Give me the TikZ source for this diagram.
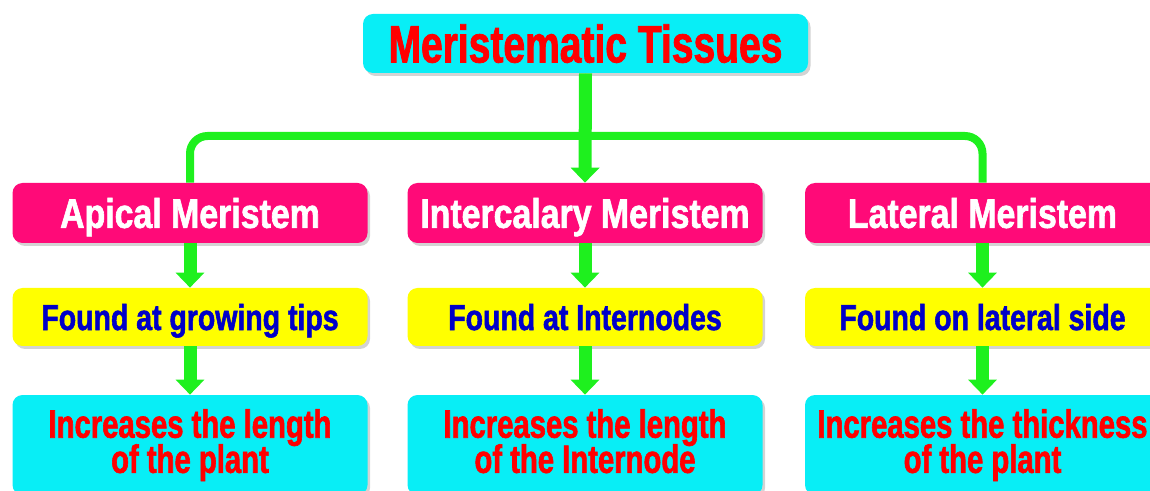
\documentclass[tikz,border=0pt]{standalone}
\usepackage{fontspec}
\usepackage{xcolor}
\usepackage{tikz}
\usetikzlibrary{positioning,arrows.meta,shadows}
\newfontfamily\titlefont[FakeStretch=0.74,FakeBold=1.5]{Liberation Sans Bold}
\newfontfamily\typefont[FakeStretch=0.82,FakeBold=1.5]{Liberation Sans Bold}
\newfontfamily\wherefont[FakeStretch=0.79,FakeBold=1.5]{Liberation Sans Bold}
\newfontfamily\rolefont[FakeStretch=0.74,FakeBold=1.5]{Liberation Sans Bold}
\newcommand{\tightlines}{\lineskiplimit=-30pt\relax\lineskip=0pt\relax}

\definecolor{boxcyan}{HTML}{08EEF6}
\definecolor{boxpink}{HTML}{FF0A78}
\definecolor{boxyellow}{HTML}{FFFF00}
\definecolor{linkgreen}{HTML}{1EF01E}
\definecolor{txtred}{HTML}{FF0000}
\definecolor{txtblue}{HTML}{0000C8}

\tikzset{
  basebox/.style={rounded corners=0.2cm, inner sep=0pt, align=center, text depth=0pt,
    drop shadow={shadow xshift=0.05cm, shadow yshift=-0.06cm, opacity=0.35}},
  titlebox/.style={basebox, text height=21.6pt, fill=boxcyan, minimum width=8.9cm, minimum height=1.18cm,
    text=txtred, font=\titlefont\fontsize{30}{30}\selectfont},
  typebox/.style={basebox, text height=16.9pt, fill=boxpink, minimum width=7.1cm, minimum height=1.2cm,
    text=white, font=\typefont\fontsize{23.5}{24}\selectfont},
  wherebox/.style={basebox, text height=14.8pt, fill=boxyellow, minimum width=7.1cm, minimum height=1.16cm,
    text=txtblue, font=\wherefont\fontsize{20.5}{21}\selectfont},
  rolebox/.style={basebox, text height=36.2pt, text depth=4.5pt, fill=boxcyan, minimum width=7.1cm, minimum height=2cm,
    text=txtred, font=\rolefont\fontsize{22.5}{20}\selectfont\tightlines},
  link/.style={draw=linkgreen, line width=0.16cm},
  downarrow/.style={draw=linkgreen, fill=linkgreen, line width=0.26cm,
    -{Triangle[width=0.56cm, length=0.3cm]}}
}

\begin{document}
\begin{tikzpicture}
\useasboundingbox (0,0) rectangle (23,-9.82);

% bar joining the three kinds
\coordinate (bar) at (11.7,-2.72);

% boxes
\node[titlebox] (title) at (11.71,-0.87) {Meristematic Tissues};

\node[typebox] (apical) at (3.8,-4.26) {Apical Meristem};
\node[typebox] (inter) at (11.7,-4.26) {Intercalary Meristem};
\node[typebox] (lateral) at (19.65,-4.26) {Lateral Meristem};

\node[wherebox] (foundA) at (3.8,-6.34) {Found at growing tips};
\node[wherebox] (foundI) at (11.7,-6.34) {Found at Internodes};
\node[wherebox] (foundL) at (19.65,-6.34) {Found on lateral side};

\node[rolebox] (incA) at (3.8,-8.9) {Increases the length\\of the plant};
\node[rolebox] (incI) at (11.7,-8.9) {Increases the length\\of the Internode};
\node[rolebox] (incL) at (19.65,-8.9) {Increases the thickness\\of the plant};

% connectors
\draw[link, rounded corners=0.35cm] (apical.north) |- (bar) -| (lateral.north);
\draw[downarrow] (title.south) -- (inter.north);

\draw[downarrow] (apical.south) -- (foundA.north);
\draw[downarrow] (inter.south) -- (foundI.north);
\draw[downarrow] (lateral.south) -- (foundL.north);

\draw[downarrow] (foundA.south) -- (incA.north);
\draw[downarrow] (foundI.south) -- (incI.north);
\draw[downarrow] (foundL.south) -- (incL.north);
\end{tikzpicture}
\end{document}
